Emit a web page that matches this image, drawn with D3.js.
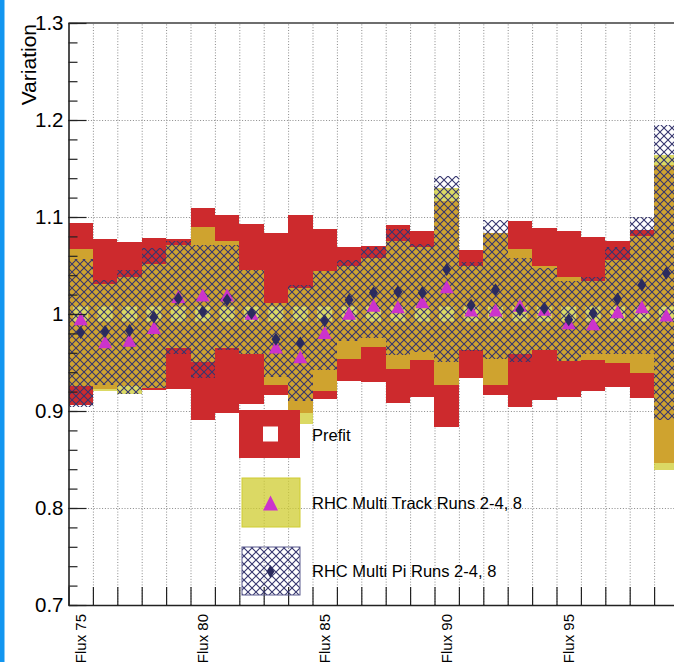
<!DOCTYPE html>
<html>
<head>
<meta charset="utf-8">
<script src="https://cdn.jsdelivr.net/npm/d3@7"></script>
<style>
  html, body { margin: 0; padding: 0; background: #ffffff; }
  svg { display: block; font-family: "Liberation Sans", Arial, Helvetica, sans-serif; }
</style>
</head>
<body>
<svg id="chart" width="674" height="662"></svg>
<script>
// ---- data: one entry per flux bin (Flux 75 ... Flux 99) ----
const binNames = d3.range(75, 100).map(n => "Flux " + n);
const labelledBins = [0, 5, 10, 15, 20];

// prefit: symmetric uncertainty around 1
const prefitErr = [0.094, 0.077, 0.0745, 0.078, 0.077, 0.109, 0.102, 0.093, 0.083, 0.102,
                   0.088, 0.069, 0.070, 0.092, 0.086, 0.116, 0.066, 0.083, 0.0955, 0.089,
                   0.086, 0.079, 0.075, 0.087, 0.154];

// RHC Multi Track Runs 2-4, 8
const trackVal  = [0.995, 0.9715, 0.973, 0.986, 1.018, 1.0196, 1.0195, 1.0007, 0.966, 0.956,
                   0.981, 1.0007, 1.009, 1.0075, 1.0127, 1.028, 1.004, 1.004, 1.009, 1.005,
                   0.991, 0.990, 1.0024, 1.0075, 0.999];
const trackHigh = [1.067, 1.031, 1.038, 1.052, 1.071, 1.090, 1.0756, 1.045, 1.011, 1.027,
                   1.044, 1.049, 1.058, 1.075, 1.069, 1.130, 1.049, 1.083, 1.067, 1.050,
                   1.038, 1.034, 1.0557, 1.080, 1.164];
const trackLow  = [0.926, 0.921, 0.918, 0.924, 0.9645, 0.951, 0.965, 0.959, 0.927, 0.887,
                   0.921, 0.954, 0.966, 0.943, 0.9526, 0.927, 0.963, 0.927, 0.959, 0.963,
                   0.952, 0.953, 0.949, 0.939, 0.839];

// RHC Multi Pi Runs 2-4, 8
const piVal  = [0.981, 0.982, 0.983, 0.997, 1.016, 1.0024, 1.0144, 1.0007, 0.974, 0.970,
                0.993, 1.0144, 1.022, 1.023, 1.022, 1.046, 1.009, 1.025, 1.004, 1.006,
                0.994, 1.0007, 1.0155, 1.030, 1.042];
const piHigh = [1.057, 1.035, 1.045, 1.068, 1.075, 1.071, 1.071, 1.045, 1.011, 1.030,
                1.044, 1.056, 1.069, 1.088, 1.072, 1.142, 1.054, 1.097, 1.058, 1.047,
                1.034, 1.038, 1.069, 1.100, 1.195];
const piLow  = [0.904, 0.927, 0.918, 0.924, 0.959, 0.934, 0.963, 0.959, 0.935, 0.910,
                0.942, 0.972, 0.975, 0.958, 0.961, 0.951, 0.962, 0.954, 0.951, 0.963,
                0.952, 0.959, 0.959, 0.959, 0.891];

const yTickValues = [0.7, 0.8, 0.9, 1.0, 1.1, 1.2, 1.3];
const yMinorValues = d3.range(35, 66).map(v => v / 50);
const yGridValues = [0.8, 0.9, 1.0, 1.1, 1.2];
const legendLabels = ["Prefit", "RHC Multi Track Runs 2-4, 8", "RHC Multi Pi Runs 2-4, 8"];

// ---- colours ----
const prefitColor = "#cd2a2d";
const trackColor = "#cfcc30";
const hatchColor = "#35356e";
const triColor = "#cc33cc";
const diaColor = "#2b2b5e";

// ---- layout ----
const W = 674, H = 662;
const plotLeft = 68.5, plotTop = 23, plotBottom = 605;

const svg = d3.select("#chart");
const x = d3.scaleLinear().domain([0, binNames.length]).range([plotLeft, plotLeft + 24.4 * binNames.length]);
const y = d3.scaleLinear().domain([0.7, 1.3]).range([plotBottom, plotTop]);

const defs = svg.append("defs");
const hatch = defs.append("pattern")
  .attr("id", "hatch").attr("patternUnits", "userSpaceOnUse")
  .attr("width", 8).attr("height", 8);
hatch.append("path")
  .attr("d", "M-1,-1L9,9M-1,9L9,-1")
  .attr("stroke", hatchColor).attr("stroke-width", 1.1).attr("fill", "none");

svg.append("rect").attr("width", W).attr("height", H).attr("fill", "#fff");
svg.append("rect").attr("x", 0).attr("y", 0).attr("width", 4.5).attr("height", H).attr("fill", "#1296f0");

// ---- grid ----
const gridX = svg.append("g").attr("transform", `translate(0,${plotBottom})`)
  .call(d3.axisBottom(x).tickValues(d3.range(1, binNames.length)).tickSize(-(plotBottom - plotTop)).tickFormat(""));
const gridY = svg.append("g").attr("transform", `translate(${plotLeft},0)`)
  .call(d3.axisLeft(y).tickValues(yGridValues).tickSize(-(W - plotLeft)).tickFormat(""));
[gridX, gridY].forEach(g => {
  g.select(".domain").remove();
  g.selectAll("line").attr("stroke", "#8a8a8a").attr("stroke-width", 1).attr("stroke-dasharray", "1,1.8");
});

const bins = d3.range(binNames.length);
// whole-pixel bin edges so neighbouring boxes meet without seams
const edge = i => Math.round(x(i));
const bw = i => edge(i + 1) - edge(i);
const xc = i => (x(i) + x(i + 1)) / 2;
const yr = v => Math.round(y(v));

// ---- prefit boxes ----
svg.append("g").selectAll("rect").data(bins).join("rect")
  .attr("x", edge).attr("width", bw)
  .attr("y", i => yr(1 + prefitErr[i])).attr("height", i => yr(1 - prefitErr[i]) - yr(1 + prefitErr[i]))
  .attr("fill", prefitColor).attr("shape-rendering", "crispEdges");
svg.append("g").selectAll("rect").data(bins).join("rect")
  .attr("x", i => xc(i) - 7.5).attr("y", y(1) - 7.5).attr("width", 15).attr("height", 15)
  .attr("fill", "#fff");

// ---- multi track band ----
svg.append("g").selectAll("rect").data(bins).join("rect")
  .attr("x", edge).attr("width", bw)
  .attr("y", i => yr(trackHigh[i])).attr("height", i => yr(trackLow[i]) - yr(trackHigh[i]))
  .attr("fill", trackColor).attr("fill-opacity", 0.75).attr("shape-rendering", "crispEdges");

// ---- multi pi band ----
svg.append("g").selectAll("rect").data(bins).join("rect")
  .attr("x", edge).attr("width", bw)
  .attr("y", i => yr(piHigh[i])).attr("height", i => yr(piLow[i]) - yr(piHigh[i]))
  .attr("fill", "url(#hatch)").attr("shape-rendering", "crispEdges");

// ---- markers ----
const triPath = "M0,-6.5L7,6.5L-7,6.5Z";
const diaPath = "M0,-6.5L4.5,0L0,6.5L-4.5,0Z";
svg.append("g").selectAll("path").data(bins).join("path")
  .attr("d", triPath).attr("fill", triColor)
  .attr("transform", i => `translate(${xc(i)},${y(trackVal[i])})`);
svg.append("g").selectAll("path").data(bins).join("path")
  .attr("d", diaPath).attr("fill", diaColor)
  .attr("transform", i => `translate(${xc(i)},${y(piVal[i])})`);

// ---- frame top ----
svg.append("line").attr("x1", plotLeft).attr("x2", W).attr("y1", plotTop).attr("y2", plotTop)
  .attr("stroke", "#6e6e6e").attr("stroke-width", 2);

// ---- y axis (ticks pointing inward) ----
const yMinor = svg.append("g").attr("transform", `translate(${plotLeft},0)`)
  .call(d3.axisLeft(y).tickValues(yMinorValues).tickSizeInner(-9).tickSizeOuter(0).tickFormat(""));
yMinor.select(".domain").remove();
yMinor.selectAll("line").attr("stroke", "#222").attr("stroke-width", 1.2);

const yAxis = svg.append("g").attr("transform", `translate(${plotLeft},0)`)
  .call(d3.axisLeft(y).tickValues(yTickValues).tickSizeInner(-18).tickSizeOuter(0).tickPadding(5)
    .tickFormat(d => d === 1 ? "1" : d3.format(".1f")(d)));
yAxis.select(".domain").attr("stroke", "#222").attr("stroke-width", 1.6);
yAxis.selectAll("line").attr("stroke", "#222").attr("stroke-width", 1.2);
yAxis.selectAll("text").attr("font-size", 20.5).attr("fill", "#000")
  .attr("font-family", "Liberation Sans, Arial, Helvetica, sans-serif");

// ---- x axis (ticks at bin edges, pointing inward) ----
const xAxis = svg.append("g").attr("transform", `translate(0,${plotBottom})`)
  .call(d3.axisBottom(x).tickValues(d3.range(0, binNames.length + 1)).tickSizeInner(-18).tickSizeOuter(0).tickFormat(""));
xAxis.select(".domain").attr("stroke", "#222").attr("stroke-width", 1.6);
xAxis.selectAll("line").attr("stroke", "#222").attr("stroke-width", 1.2);

svg.append("g").selectAll("text").data(labelledBins).join("text")
  .attr("transform", i => `translate(${xc(i) + 5.5},614) rotate(-90)`)
  .attr("text-anchor", "end").attr("font-size", 15).attr("fill", "#000")
  .text(i => binNames[i]);

// ---- axis title ----
svg.append("text")
  .attr("transform", `translate(35.5,24) rotate(-90)`)
  .attr("text-anchor", "end").attr("font-size", 21).attr("fill", "#000")
  .text("Variation");

// ---- legend ----
const leg = svg.append("g");
// prefit entry
leg.append("rect").attr("x", 239).attr("y", 410).attr("width", 61).attr("height", 48).attr("fill", prefitColor);
leg.append("rect").attr("x", 263).attr("y", 426.5).attr("width", 15).attr("height", 15).attr("fill", "#fff");
// multi track entry
leg.append("rect").attr("x", 242).attr("y", 478).attr("width", 58).attr("height", 49)
  .attr("fill", trackColor).attr("fill-opacity", 0.75)
  .attr("stroke", trackColor).attr("stroke-width", 1);
leg.append("path").attr("d", "M0,-7.5L7.5,7.5L-7.5,7.5Z").attr("fill", triColor)
  .attr("transform", "translate(270.5,503)");
// multi pi entry
leg.append("rect").attr("x", 242).attr("y", 547).attr("width", 58).attr("height", 48)
  .attr("fill", "url(#hatch)").attr("stroke", "#5a5a8e").attr("stroke-width", 1);
leg.append("path").attr("d", "M0,-6.5L4,0L0,6.5L-4,0Z").attr("fill", diaColor)
  .attr("transform", "translate(270.5,571.5)");

leg.selectAll("text.leg").data(legendLabels).join("text").attr("class", "leg")
  .attr("x", 312).attr("y", (d, i) => [441, 508.5, 577][i])
  .attr("font-size", 16.5).attr("fill", "#000")
  .text(d => d);
</script>
</body>
</html>
